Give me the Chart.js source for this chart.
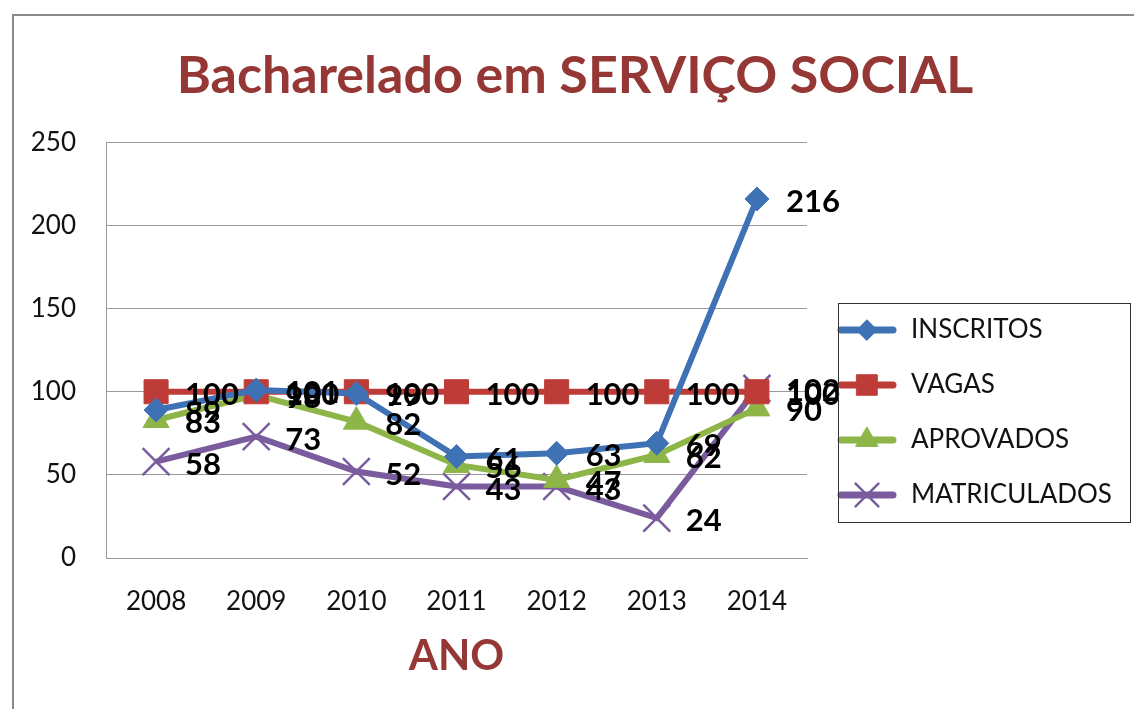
<!DOCTYPE html>
<html>
<head>
<meta charset="utf-8">
<script src="https://cdn.jsdelivr.net/npm/chart.js@4.4.1/dist/chart.umd.min.js"></script>
<style>
  html, body { margin: 0; padding: 0; background: #fff; }
  #wrap { position: relative; width: 1134px; height: 709px; overflow: hidden; }
  #frame { position: absolute; left: 12px; top: 14px; width: 1200px; height: 800px;
           border-left: 2px solid #8a8a8a; border-top: 2px solid #8a8a8a; pointer-events: none; }
  canvas { position: absolute; left: 0; top: 0; }
</style>
</head>
<body>
<div id="wrap">
  <canvas id="c" width="1134" height="709"></canvas>
  <div id="frame"></div>
</div>
<script>
const years = ['2008', '2009', '2010', '2011', '2012', '2013', '2014'];
const inscritos = [89, 101, 99, 61, 63, 69, 216];
const vagas = [100, 100, 100, 100, 100, 100, 100];
const aprovados = [83, 98, 82, 56, 47, 62, 90];
const matriculados = [58, 73, 52, 43, 43, 24, 102];
const yTicks = [0, 50, 100, 150, 200, 250];

const FONT = 'Lato, "Open Sans", sans-serif';

function legendIcon(color, style, radius, bw) {
  const c = document.createElement('canvas');
  c.width = 62; c.height = 30;
  const ctx = c.getContext('2d');
  ctx.strokeStyle = color; ctx.lineWidth = 7; ctx.lineCap = 'round';
  ctx.beginPath(); ctx.moveTo(5, 15); ctx.lineTo(57, 15); ctx.stroke();
  ctx.fillStyle = color; ctx.strokeStyle = color; ctx.lineWidth = bw;
  Chart.helpers.drawPoint(ctx, {pointStyle: style, radius: radius, rotation: 0, borderWidth: bw}, 31, 15);
  ctx.fill();
  return c;
}

const series = [
  {label: 'INSCRITOS', data: inscritos, color: '#3F72B5', point: 'rectRot', r: 12, bw: 1},
  {label: 'VAGAS', data: vagas, color: '#BE3C38', point: 'rect', r: 17, bw: 1},
  {label: 'APROVADOS', data: aprovados, color: '#8DB548', point: 'triangle', r: 15, bw: 1},
  {label: 'MATRICULADOS', data: matriculados, color: '#7A5C9E', point: 'crossRot', r: 19, bw: 2.5}
];

const labelPlugin = {
  id: 'valueLabels',
  afterDatasetsDraw(chart) {
    const ctx = chart.ctx;
    ctx.save();
    ctx.font = 'bold 31px ' + FONT;
    ctx.fillStyle = '#000';
    ctx.textAlign = 'left';
    ctx.textBaseline = 'middle';
    chart.data.datasets.forEach((ds, i) => {
      const meta = chart.getDatasetMeta(i);
      meta.data.forEach((pt, j) => {
        ctx.fillText(String(ds.data[j]), pt.x + 29, pt.y + 3);
      });
    });
    ctx.restore();
  }
};

const LG_PAD = 29, LG_ITEM = 26;
const legendPlugin = {
  id: 'legendTweak',
  afterInit(chart) {
    const lg = chart.legend;
    if (!lg) return;
    const orig = lg.fit.bind(lg);
    lg.fit = function () { orig(); this.width = 323; };
  },
  afterLayout(chart) {
    const lg = chart.legend;
    if (!lg) return;
    lg.top = 200;
    lg.bottom = 625;
  },
  afterDraw(chart) {
    const lg = chart.legend;
    if (!lg) return;
    const n = chart.data.datasets.length;
    const colH = n * (LG_ITEM + LG_PAD);
    const start = (lg.top + LG_PAD + lg.bottom - colH) / 2;
    const firstCenter = start + LG_ITEM / 2;
    const ctx = chart.ctx;
    ctx.save();
    ctx.strokeStyle = '#333';
    ctx.lineWidth = 1;
    ctx.strokeRect(Math.round(lg.left + 31) + 0.5, Math.round(firstCenter - 27) + 0.5, 292, 219);
    ctx.restore();
  }
};

new Chart(document.getElementById('c'), {
  type: 'line',
  data: {
    labels: years,
    datasets: series.map(s => ({
      label: s.label,
      data: s.data,
      borderColor: s.color,
      backgroundColor: s.color,
      borderWidth: 6,
      pointStyle: s.point,
      pointRadius: s.r,
      pointHoverRadius: s.r,
      pointBorderWidth: s.bw,
      pointBorderColor: s.color,
      pointBackgroundColor: s.color,
      tension: 0,
      fill: false,
      legendIcon: legendIcon(s.color, s.point, s.r * 0.85, s.bw)
    }))
  },
  options: {
    responsive: false,
    animation: false,
    events: [],
    layout: { padding: { left: 20, right: 4, top: 45, bottom: 0 } },
    plugins: {
      title: {
        display: true,
        text: 'Bacharelado em SERVIÇO SOCIAL',
        color: '#953735',
        font: { family: FONT, size: 52, weight: 'bold' },
        padding: { top: 0, bottom: 35 }
      },
      legend: {
        display: true,
        position: 'right',
        labels: {
          usePointStyle: true,
          pointStyleWidth: 62,
          padding: LG_PAD,
          color: '#111',
          font: { family: FONT, size: LG_ITEM },
          generateLabels(chart) {
            return chart.data.datasets.map((ds, i) => ({
              text: ds.label,
              pointStyle: ds.legendIcon,
              fillStyle: ds.borderColor,
              strokeStyle: ds.borderColor,
              lineWidth: 0,
              hidden: false,
              datasetIndex: i,
              fontColor: '#111'
            }));
          }
        }
      },
      tooltip: { enabled: false }
    },
    scales: {
      x: {
        offset: true,
        grid: { display: false, offset: true },
        border: { display: true, color: '#999', width: 1 },
        ticks: { color: '#111', font: { family: FONT, size: 26 }, padding: 20 },
        title: {
          display: true, text: 'ANO', color: '#953735',
          font: { family: FONT, size: 42, weight: 'bold' },
          padding: { top: 6, bottom: 27 }
        },
        afterFit(scale) { scale.height = 151; }
      },
      y: {
        min: 0, max: 250,
        afterBuildTicks(scale) { scale.ticks = yTicks.map(v => ({value: v})); },
        grid: { color: '#9a9a9a', lineWidth: 1, drawTicks: false },
        border: { display: true, color: '#999', width: 1 },
        ticks: { color: '#111', font: { family: FONT, size: 26 }, padding: 30 },
        afterFit(scale) { scale.width = 86; }
      }
    }
  },
  plugins: [labelPlugin, legendPlugin]
});
</script>
</body>
</html>
